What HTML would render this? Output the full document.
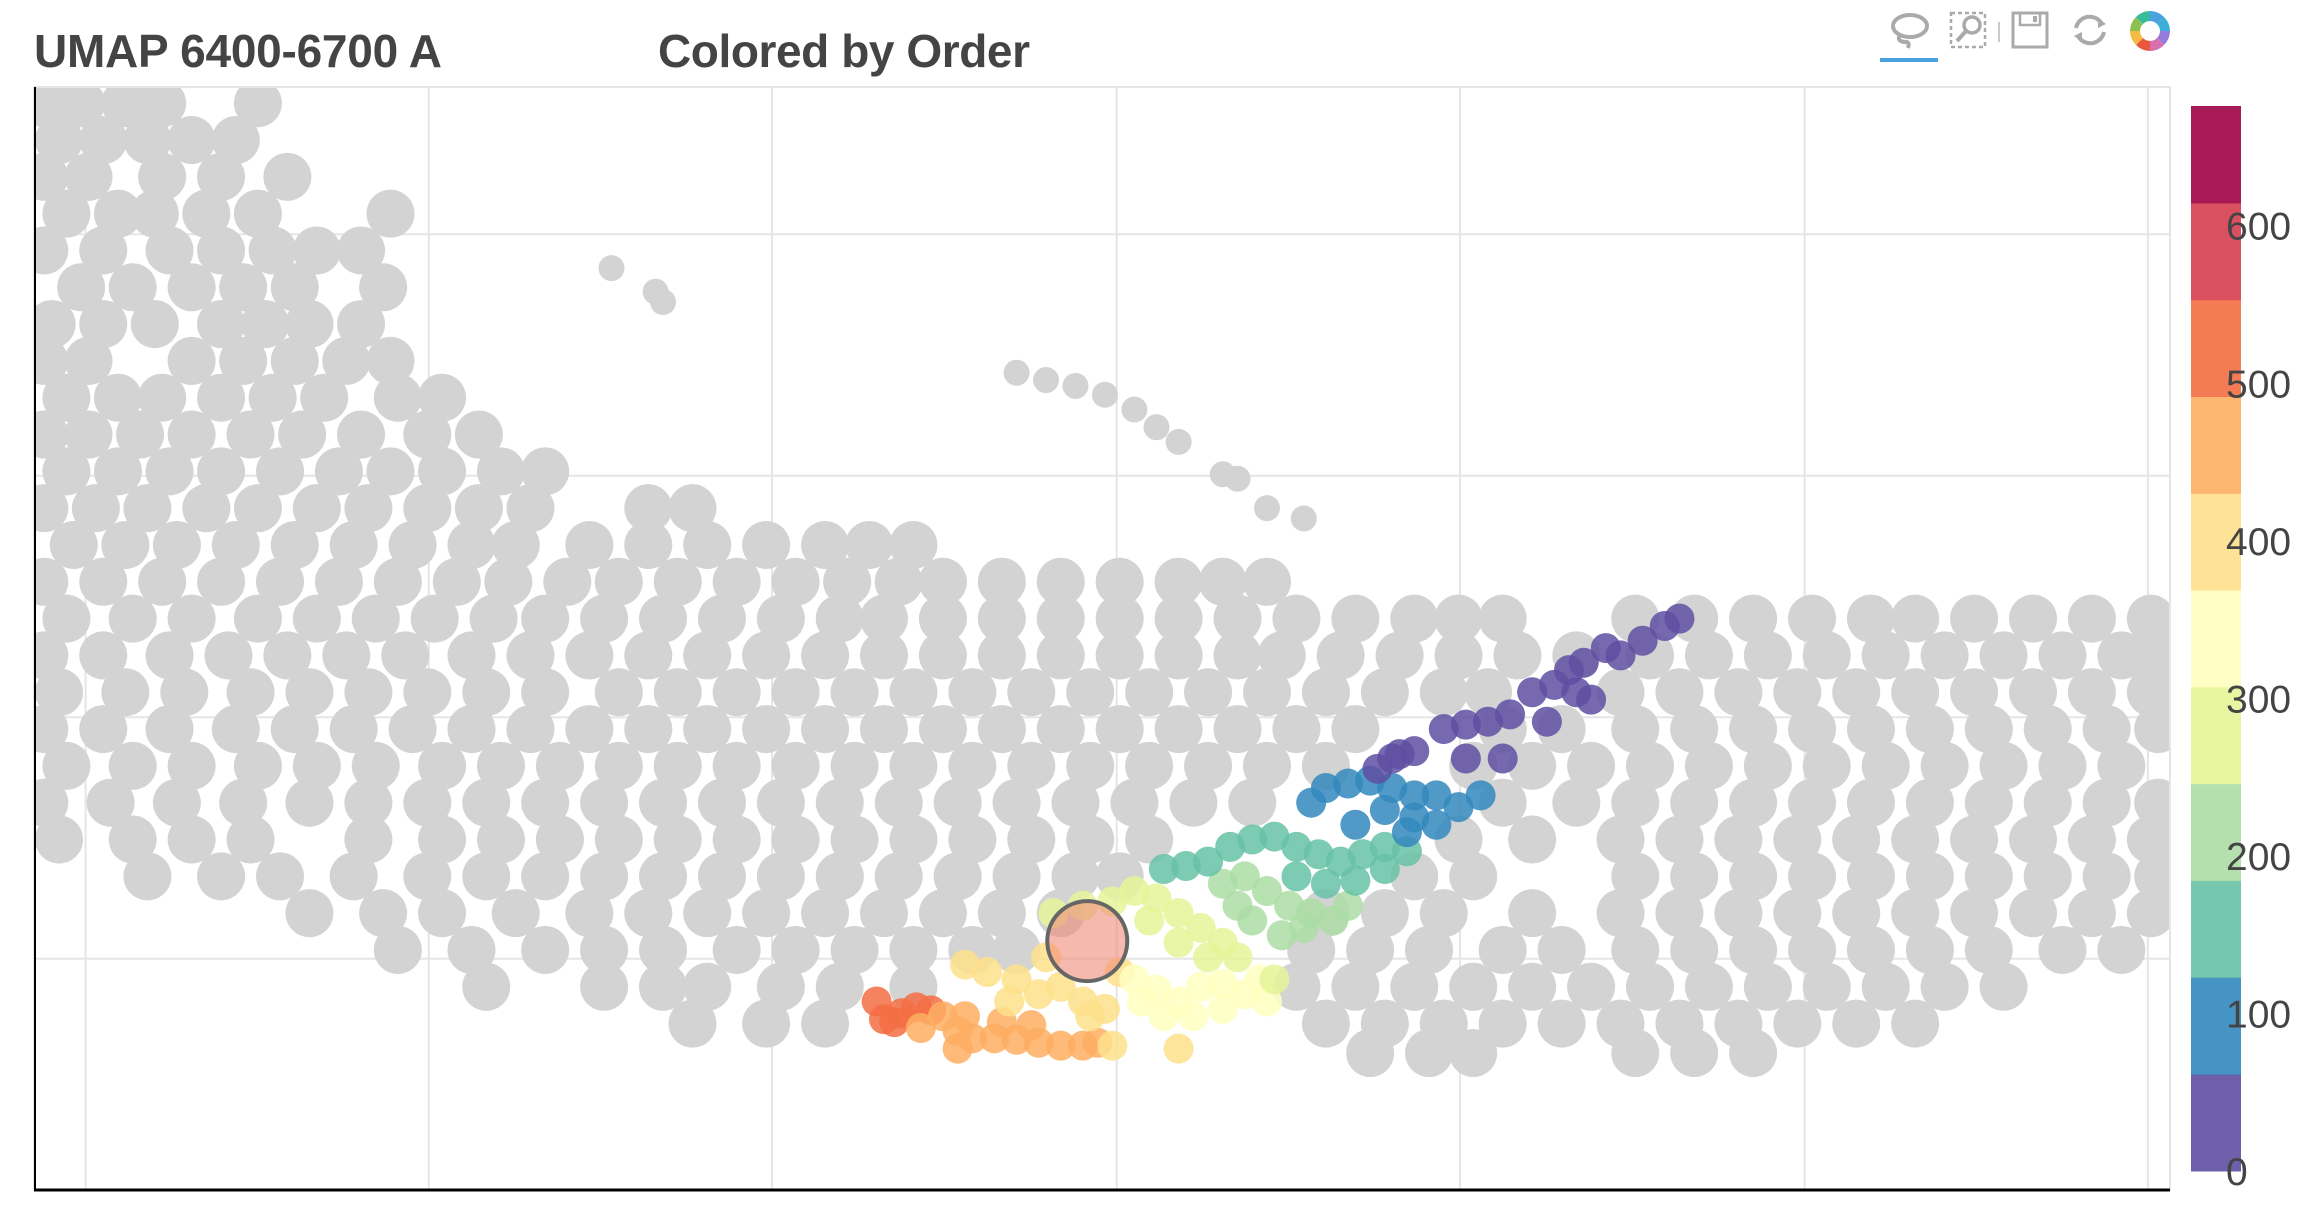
<!DOCTYPE html>
<html><head><meta charset="utf-8"><style>
html,body{margin:0;padding:0;background:#fff;}
body{width:2310px;height:1206px;overflow:hidden;font-family:"Liberation Sans",sans-serif;}
</style></head><body>
<svg id="chart" width="2310" height="1206" xmlns="http://www.w3.org/2000/svg">
<text x="34" y="67" font-family="Liberation Sans, sans-serif" font-weight="bold" font-size="46" fill="#444" textLength="408">UMAP 6400-6700 A</text>
<text x="658" y="67" font-family="Liberation Sans, sans-serif" font-weight="bold" font-size="46" fill="#444" textLength="372">Colored by Order</text>
<g>
 <g><ellipse cx="1910" cy="26" rx="17" ry="11" fill="none" stroke="#aaa" stroke-width="4"/><path d="M1900 34 q-4 8 6 8 q4 0 2 6" fill="none" stroke="#aaa" stroke-width="4"/><rect x="1880" y="58" width="58" height="4" fill="#4aa3df"/></g>
 <g><rect x="1951" y="13" width="34" height="34" fill="none" stroke="#aaa" stroke-width="2.5" stroke-dasharray="4 3"/><circle cx="1972" cy="25" r="8" fill="none" stroke="#aaa" stroke-width="3.5"/><line x1="1966" y1="31" x2="1957" y2="41" stroke="#aaa" stroke-width="4"/></g>
 <line x1="1999" y1="22" x2="1999" y2="42" stroke="#ccc" stroke-width="2"/>
 <g><rect x="2013" y="13" width="34" height="34" fill="none" stroke="#aaa" stroke-width="3"/><rect x="2020" y="13" width="20" height="12" fill="none" stroke="#aaa" stroke-width="2.5"/><rect x="2033" y="16" width="4" height="6" fill="#aaa"/></g>
 <g><path d="M2076 28 a14 14 0 0 1 26 -4" fill="none" stroke="#aaa" stroke-width="4"/><path d="M2104 32 a14 14 0 0 1 -26 4" fill="none" stroke="#aaa" stroke-width="4"/><path d="M2098 18 l8 6 l-8 4z" fill="#aaa"/><path d="M2082 42 l-8 -6 l8 -4z" fill="#aaa"/></g>
 <g transform="translate(2150,31)">
  <path d="M0 -20 A20 20 0 0 1 14 -14 L7 -7 A10 10 0 0 0 0 -10z" fill="#4aa3df"/>
  <path d="M14 -14 A20 20 0 0 1 20 0 L10 0 A10 10 0 0 0 7 -7z" fill="#3bafda"/>
  <path d="M20 0 A20 20 0 0 1 14 14 L7 7 A10 10 0 0 0 10 0z" fill="#967adc"/>
  <path d="M14 14 A20 20 0 0 1 0 20 L0 10 A10 10 0 0 0 7 7z" fill="#d770ad"/>
  <path d="M0 20 A20 20 0 0 1 -14 14 L-7 7 A10 10 0 0 0 0 10z" fill="#e9573f"/>
  <path d="M-14 14 A20 20 0 0 1 -20 0 L-10 0 A10 10 0 0 0 -7 7z" fill="#f6bb42"/>
  <path d="M-20 0 A20 20 0 0 1 -14 -14 L-7 -7 A10 10 0 0 0 -10 0z" fill="#8cc152"/>
  <path d="M-14 -14 A20 20 0 0 1 0 -20 L0 -10 A10 10 0 0 0 -7 -7z" fill="#37bc9b"/>
 </g>
</g>
<rect x="34" y="87" width="2136" height="1103" fill="none" stroke="#e5e5e5" stroke-width="2"/>
<g id="grid"></g>
<clipPath id="clip"><rect x="35" y="88" width="2134" height="1101"/></clipPath>
<g id="points" clip-path="url(#clip)"></g>
<line x1="35" y1="87" x2="35" y2="1191" stroke="#000" stroke-width="2"/>
<line x1="34" y1="1190" x2="2170" y2="1190" stroke="#000" stroke-width="3"/>
<g id="colorbar"></g>
</svg>
<script>
const xGridVals=[58,291,524,758,991,1225,1458];
const yGridVals=[159,323,487,651];
const grayRows=[70,95,120,145,170,195,220,245,270,295,320,345,370,395,420,445,470,495,520,545,570,595,620,645,670,695,715];
const grayRowX=[
[30,55,85,110,175],
[40,70,100,130,160],
[30,60,110,150,195],
[45,80,105,140,175,265],
[30,70,115,150,185,215,245],
[55,90,130,165,200,260],
[35,70,105,150,180,210,245],
[30,60,130,165,200,235,265],
[45,80,110,150,185,220,270,300],
[30,60,95,130,170,205,245,290,325],
[45,80,115,150,190,230,265,300,340,370],
[30,65,100,140,175,215,250,290,325,360,440,470],
[50,85,120,160,200,240,280,320,350,400,440,480,520,560,590,620],
[30,70,110,150,190,230,270,310,345,385,420,460,500,540,575,610,640,680,720,760,800,830,860],
[45,90,130,175,215,255,295,335,370,410,450,490,530,570,600,640,680,720,760,800,840,880,920,960,990,1020,1110,1150,1190,1230,1270,1300,1340,1380,1420,1460],
[30,70,115,155,195,235,275,320,360,400,440,480,520,560,600,640,680,720,760,800,840,870,910,950,990,1030,1070,1120,1160,1200,1240,1280,1320,1360,1400,1440,1465],
[40,85,125,170,210,250,290,330,370,420,460,500,540,580,620,660,700,740,780,820,860,900,940,980,1010,1100,1140,1180,1220,1260,1300,1340,1380,1420,1460],
[30,70,115,160,200,240,280,320,360,400,440,480,520,560,600,640,680,720,760,800,840,880,920,1020,1060,1110,1150,1190,1230,1270,1310,1350,1390,1430,1465],
[45,90,130,175,215,255,300,340,380,420,460,500,540,580,620,660,700,740,780,820,860,900,1000,1040,1080,1120,1160,1200,1240,1280,1320,1360,1400,1440],
[30,75,120,165,210,250,290,330,370,410,450,490,530,570,610,650,690,730,770,810,850,1020,1070,1110,1150,1190,1230,1270,1310,1350,1390,1430,1465],
[40,90,130,170,250,300,340,380,420,460,500,540,580,620,660,700,740,780,990,1040,1100,1140,1180,1220,1260,1300,1340,1380,1420,1460],
[100,150,190,240,290,330,370,410,450,490,530,570,610,650,690,730,760,960,1000,1110,1150,1190,1230,1270,1310,1350,1390,1430,1465],
[210,260,300,350,400,440,480,520,560,600,640,680,720,900,940,980,1040,1100,1140,1180,1220,1260,1300,1340,1380,1420,1460],
[270,320,370,410,450,500,540,580,620,660,690,890,930,970,1020,1060,1110,1150,1190,1230,1270,1310,1350,1400,1440],
[330,410,450,480,530,570,620,880,920,960,1000,1040,1080,1120,1160,1200,1240,1280,1320,1360],
[470,520,560,900,940,980,1020,1060,1100,1140,1180,1220,1260,1300],
[930,970,1000,1110,1150,1190]
];
const grayExtraX=[690,710,730,750,770,785,800,830,840,860,885,415,445,450,265];
const grayExtraY=[253,258,262,268,278,290,300,322,325,345,352,182,198,205,150];
const colorX=[595,600,612,622,632,607, 640,650,660,675,690,705,720,735,745,650,680,700,625,655, 655,670,690,705,720,735,750,755,800,760,740,685,710, 770,785,800,815,830,845,860,790,810,830,855,775, 715,735,755,770,785,800,815,830,840,820,800,865,780, 830,845,860,875,890,905,850,870,885,915,840, 790,805,820,835,850,865,880,895,910,925,940,955,880,900,920,940, 890,900,915,930,945,960,975,990,1005,940,960,975,920,955, 935,950,960,980,995,1010,1025,1040,1055,1070,1080,1065,1075,1090,1100,1115,1130,1140,1020,995,1050,945];
const colorY=[680,692,688,684,686,694, 690,700,705,705,706,708,710,710,708,712,694,696,698,690, 655,660,665,675,670,680,685,710,712,660,690,680,650, 665,672,680,670,668,675,680,690,690,685,665,680, 620,615,612,605,610,620,630,640,650,650,640,665,625, 600,595,605,615,620,625,625,635,630,615,615, 590,588,585,575,570,568,575,580,585,580,575,578,595,600,598,590, 545,535,532,530,535,540,540,548,540,550,555,560,560,565, 522,512,510,495,492,490,485,470,465,470,475,455,450,440,445,435,425,420,515,515,490,515];
const orderVals=[520,525,530,535,540,528, 460,462,465,468,470,455,450,445,440,472,458,452,480,475, 400,402,405,398,395,392,390,410,385,380,388,408,395, 340,342,335,330,325,320,315,345,338,332,318,350, 280,285,288,290,275,270,265,260,255,262,268,250,278, 215,212,208,205,200,198,210,205,200,195,218, 150,155,160,165,168,170,160,155,150,145,140,135,158,152,148,142, 90,95,100,105,100,95,90,85,80,98,92,88,110,88, 55,52,50,45,42,40,38,35,32,30,28,25,22,18,15,12,8,5,48,50,40,58];
const selX=[738], selY=[639];
const cbTicks=[0,100,200,300,400,500,600];
const cbLow=0, cbHigh=676;
const palette=['#5e4fa2','#3288bd','#66c2a5','#abdda4','#e6f598','#ffffbf','#fee08b','#fdae61','#f46d43','#d53e4f','#9e0142'];

const X0=34,X1=2170,Y0=87,Y1=1190;
function sx(v){return X0+(v-23)/(1473-23)*(X1-X0);}
function sy(v){return Y0+(v-59)/(808-59)*(Y1-Y0);}
const NS='http://www.w3.org/2000/svg';
function mk(t,a,p){const e=document.createElementNS(NS,t);for(const k in a)e.setAttribute(k,a[k]);p.appendChild(e);return e;}
const grid=document.getElementById('grid');
xGridVals.forEach(v=>{const l=mk('line',{x1:sx(v),x2:sx(v),y1:Y0,y2:Y1,stroke:'#e5e5e5','stroke-width':2},grid);

});
yGridVals.forEach(v=>{const l=mk('line',{x1:X0,x2:X1,y1:sy(v),y2:sy(v),stroke:'#e5e5e5','stroke-width':2},grid);

});
const pts=document.getElementById('points');
grayRows.forEach((ry,i)=>{grayRowX[i].forEach(rx=>{const c=mk('circle',{cx:sx(rx),cy:sy(ry),r:24,fill:'#d3d3d3'},pts);

});});
grayExtraX.forEach((v,i)=>{const c=mk('circle',{cx:sx(v),cy:sy(grayExtraY[i]),r:13,fill:'#d3d3d3'},pts);

});
function colorFor(v){let b=Math.floor((v-cbLow)/(cbHigh-cbLow)*palette.length);b=Math.max(0,Math.min(palette.length-1,b));return palette[b];}
colorX.forEach((v,i)=>{const c=mk('circle',{cx:sx(v),cy:sy(colorY[i]),r:15,fill:colorFor(orderVals[i]),'fill-opacity':0.85},pts);

});
selX.forEach((v,i)=>{const c=mk('circle',{cx:sx(v),cy:sy(selY[i]),r:40,fill:'#f08a78','fill-opacity':0.6,stroke:'#666','stroke-width':4},pts);

});
const cb=document.getElementById('colorbar');
const CB0=106,CB1=1171,CBX=2191,CBW=50;
function cy(v){return CB1-(v-cbLow)/(cbHigh-cbLow)*(CB1-CB0);}
palette.forEach((col,i)=>{const lo=cbLow+i*(cbHigh-cbLow)/palette.length,hi=cbLow+(i+1)*(cbHigh-cbLow)/palette.length;
const r=mk('rect',{x:CBX,y:cy(hi),width:CBW,height:cy(lo)-cy(hi)+0.5,fill:col,'fill-opacity':0.9},cb);

});
cbTicks.forEach(v=>{const t=mk('text',{x:2226,y:cy(v)+14,'font-size':39,fill:'#444','font-family':'Liberation Sans, sans-serif'},cb);t.textContent=String(v);

});
</script>
</body></html>
